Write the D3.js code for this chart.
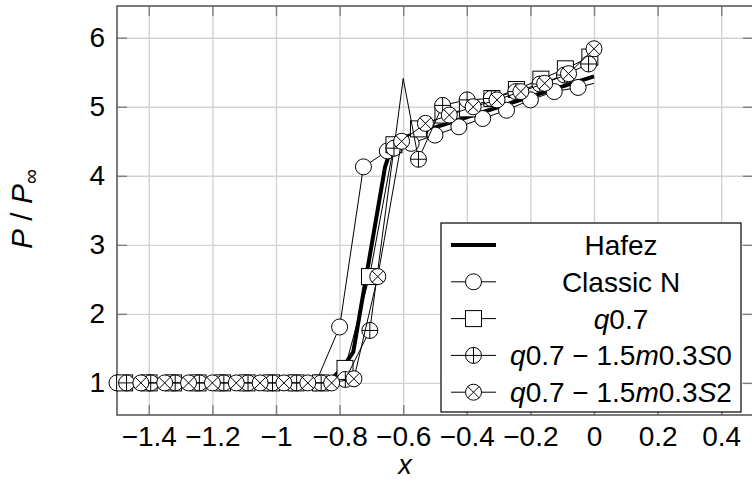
<!DOCTYPE html>
<html>
<head>
<meta charset="utf-8">
<script src="https://cdn.jsdelivr.net/npm/d3@7"></script>
<style>
  body { margin: 0; background: #fff; }
  text { font-family: "Liberation Sans", Arial, sans-serif; fill: #000; }
</style>
</head>
<body>
<svg id="chart" width="752" height="481"></svg>
<script>
// data
const hafezX = [-1.5, -0.85, -0.82, -0.79, -0.757, -0.657, -0.64, -0.61, 0];
const hafezY = [1, 1, 1.08, 1.22, 1.45, 4.13, 4.37, 4.54, 5.44];

const classicX = [-1.5, -1.4, -1.325, -1.25, -1.175, -1.1, -1.025, -0.95, -0.875, -0.8, -0.725, -0.65, -0.575, -0.5, -0.425, -0.35, -0.275, -0.2, -0.125, -0.05, 0];
const classicY = [1, 1, 1, 1, 1, 1, 1, 1, 1, 1.81, 4.13, 4.36, 4.47, 4.59, 4.71, 4.83, 4.95, 5.1, 5.22, 5.28, 5.34];

const q07X = [-1.476, -1.399, -1.322, -1.245, -1.168, -1.091, -1.014, -0.937, -0.86, -0.783, -0.706, -0.629, -0.552, -0.475, -0.398, -0.321, -0.244, -0.167, -0.09, -0.013];
const q07Y = [1, 1, 1, 1, 1, 1, 1, 1, 1, 1.21, 2.54, 4.45, 4.68, 4.88, 4.97, 5.12, 5.25, 5.4, 5.55, 5.72];

const s0X = [-1.47, -1.394, -1.317, -1.241, -1.164, -1.088, -1.011, -0.935, -0.858, -0.782, -0.705, -0.629, -0.6, -0.552, -0.476, -0.399, -0.323, -0.246, -0.17, -0.093, -0.017];
const s0Y = [1, 1, 1, 1, 1, 1, 1, 1, 1, 1.05, 1.76, 4.4, 5.41, 4.24, 5.02, 5.1, 5.12, 5.22, 5.33, 5.46, 5.62];

const s2X = [-1.425, -1.35, -1.275, -1.2, -1.125, -1.05, -0.975, -0.9, -0.825, -0.755, -0.68, -0.605, -0.53, -0.455, -0.38, -0.305, -0.23, -0.155, -0.08, 0];
const s2Y = [1, 1, 1, 1, 1, 1, 1, 1, 1, 1.06, 2.54, 4.5, 4.76, 4.88, 5.0, 5.1, 5.22, 5.34, 5.48, 5.84];

const xTicks = [-1.4, -1.2, -1, -0.8, -0.6, -0.4, -0.2, 0, 0.2, 0.4];
const yTicks = [1, 2, 3, 4, 5, 6];

// legend text: [part, italic?]
const legendLabels = [
  [["Hafez", false]],
  [["Classic N", false]],
  [["q", true], ["0.7", false]],
  [["q", true], ["0.7 \u2212 1.5", false], ["m", true], ["0.3", false], ["S", true], ["0", false]],
  [["q", true], ["0.7 \u2212 1.5", false], ["m", true], ["0.3", false], ["S", true], ["2", false]]
];

const series = [
  { xs: hafezX, ys: hafezY, mark: null, width: 4 },
  { xs: classicX, ys: classicY, mark: 'circle', width: 1, hide: [20] },
  { xs: q07X, ys: q07Y, mark: 'square', width: 1 },
  { xs: s0X, ys: s0Y, mark: 'oplus', width: 1, hide: [12] },
  { xs: s2X, ys: s2Y, mark: 'otimes', width: 1 }
];

const box = { left: 117, right: 753, top: 6, bottom: 415 };
const fs = 28;

const svg = d3.select('#chart');
svg.append('rect').attr('width', 752).attr('height', 481).attr('fill', '#fff');

const x = d3.scaleLinear().domain([-1.5, 0.5]).range([box.left, box.right]);
const y = d3.scaleLinear().domain([0.535, 6.46]).range([box.bottom, box.top]);
const H = box.bottom - box.top, W = box.right - box.left;

// grid
svg.append('g').attr('transform', 'translate(0,' + box.bottom + ')')
  .call(d3.axisBottom(x).tickValues(xTicks).tickSize(-H).tickFormat(''))
  .call(g => g.select('.domain').remove())
  .call(g => g.selectAll('line').attr('stroke', '#d2d2d2').attr('stroke-width', 1.4));
svg.append('g').attr('transform', 'translate(' + box.left + ',0)')
  .call(d3.axisLeft(y).tickValues(yTicks).tickSize(-W).tickFormat(''))
  .call(g => g.select('.domain').remove())
  .call(g => g.selectAll('line').attr('stroke', '#d2d2d2').attr('stroke-width', 1.4));

// short inner ticks on all four sides
function ticks(axis, tr) {
  svg.append('g').attr('transform', tr).call(axis)
    .call(g => g.select('.domain').remove())
    .call(g => g.selectAll('line').attr('stroke', '#808080').attr('stroke-width', 1.4));
}
ticks(d3.axisBottom(x).tickValues(xTicks).tickSize(-10).tickFormat(''), 'translate(0,' + box.bottom + ')');
ticks(d3.axisTop(x).tickValues(xTicks).tickSize(-10).tickFormat(''), 'translate(0,' + box.top + ')');
ticks(d3.axisLeft(y).tickValues(yTicks).tickSize(-10).tickFormat(''), 'translate(' + box.left + ',0)');
ticks(d3.axisRight(y).tickValues(yTicks).tickSize(-10).tickFormat(''), 'translate(' + box.right + ',0)');

// tick labels
svg.append('g').attr('transform', 'translate(0,' + box.bottom + ')')
  .call(d3.axisBottom(x).tickValues(xTicks).tickSize(0).tickPadding(0).tickFormat(d3.format('')))
  .call(g => g.select('.domain').remove())
  .call(g => g.selectAll('text').attr('y', 31).attr('dy', null).attr('font-size', fs).attr('fill', '#000'));
svg.append('g').attr('transform', 'translate(' + box.left + ',0)')
  .call(d3.axisLeft(y).tickValues(yTicks).tickSize(0).tickPadding(12).tickFormat(d3.format('d')))
  .call(g => g.select('.domain').remove())
  .call(g => g.selectAll('text').attr('font-size', fs).attr('fill', '#000'));

// frame
svg.append('rect').attr('x', box.left).attr('y', box.top).attr('width', W).attr('height', H)
  .attr('fill', 'none').attr('stroke', '#5a5a5a').attr('stroke-width', 1.6);

// markers
function drawMark(g, type, cx, cy) {
  const r = 8;
  if (type === 'square') {
    g.append('rect').attr('x', cx - r).attr('y', cy - r).attr('width', 2 * r).attr('height', 2 * r)
      .attr('fill', '#fff').attr('stroke', '#000').attr('stroke-width', 1);
    return;
  }
  g.append('circle').attr('cx', cx).attr('cy', cy).attr('r', r)
    .attr('fill', '#fff').attr('stroke', '#000').attr('stroke-width', 1);
  let segs = [];
  if (type === 'oplus') segs = [[-r, 0, r, 0], [0, -r, 0, r]];
  if (type === 'otimes') { const k = r * 0.707; segs = [[-k, -k, k, k], [-k, k, k, -k]]; }
  segs.forEach(s => g.append('line')
    .attr('x1', cx + s[0]).attr('y1', cy + s[1]).attr('x2', cx + s[2]).attr('y2', cy + s[3])
    .attr('stroke', '#000').attr('stroke-width', 1));
}

const line = d3.line().x(d => x(d[0])).y(d => y(d[1]));
series.forEach(s => {
  const pts = s.xs.map((v, i) => [v, s.ys[i]]);
  const g = svg.append('g');
  g.append('path').datum(pts).attr('d', line).attr('fill', 'none')
    .attr('stroke', '#000').attr('stroke-width', s.width).attr('stroke-linejoin', 'round');
  if (s.mark) {
    pts.forEach((p, i) => {
      if (s.hide && s.hide.includes(i)) return;
      drawMark(g, s.mark, x(p[0]), y(p[1]));
    });
  }
});

// legend
const leg = { x: 441, y: 223, w: 300, h: 189, row: 36.8, textX: 621 };
const lg = svg.append('g');
lg.append('rect').attr('x', leg.x).attr('y', leg.y).attr('width', leg.w).attr('height', leg.h)
  .attr('fill', '#fff').attr('stroke', '#000').attr('stroke-width', 1.2);
series.forEach((s, i) => {
  const cy = leg.y + 22 + i * leg.row;
  lg.append('line').attr('x1', leg.x + 10).attr('x2', leg.x + 55).attr('y1', cy).attr('y2', cy)
    .attr('stroke', '#000').attr('stroke-width', s.width);
  if (s.mark) drawMark(lg, s.mark, leg.x + 32.5, cy);
  const t = lg.append('text').attr('x', leg.textX).attr('y', cy).attr('dy', '0.36em')
    .attr('text-anchor', 'middle').attr('font-size', fs);
  legendLabels[i].forEach(p => t.append('tspan').text(p[0]).attr('font-style', p[1] ? 'italic' : 'normal'));
});

// axis labels
svg.append('text').attr('x', 405).attr('y', 474).attr('text-anchor', 'middle')
  .attr('font-size', 27).attr('font-style', 'italic').text('x');
const yl = svg.append('text').attr('transform', 'translate(32,209) rotate(-90)')
  .attr('text-anchor', 'middle').attr('font-size', 30);
yl.append('tspan').attr('font-style', 'italic').text('P');
yl.append('tspan').text(' / ');
yl.append('tspan').attr('font-style', 'italic').text('P');
yl.append('tspan').attr('font-size', 21).attr('dy', 6).text('\u221e');
</script>
</body>
</html>
